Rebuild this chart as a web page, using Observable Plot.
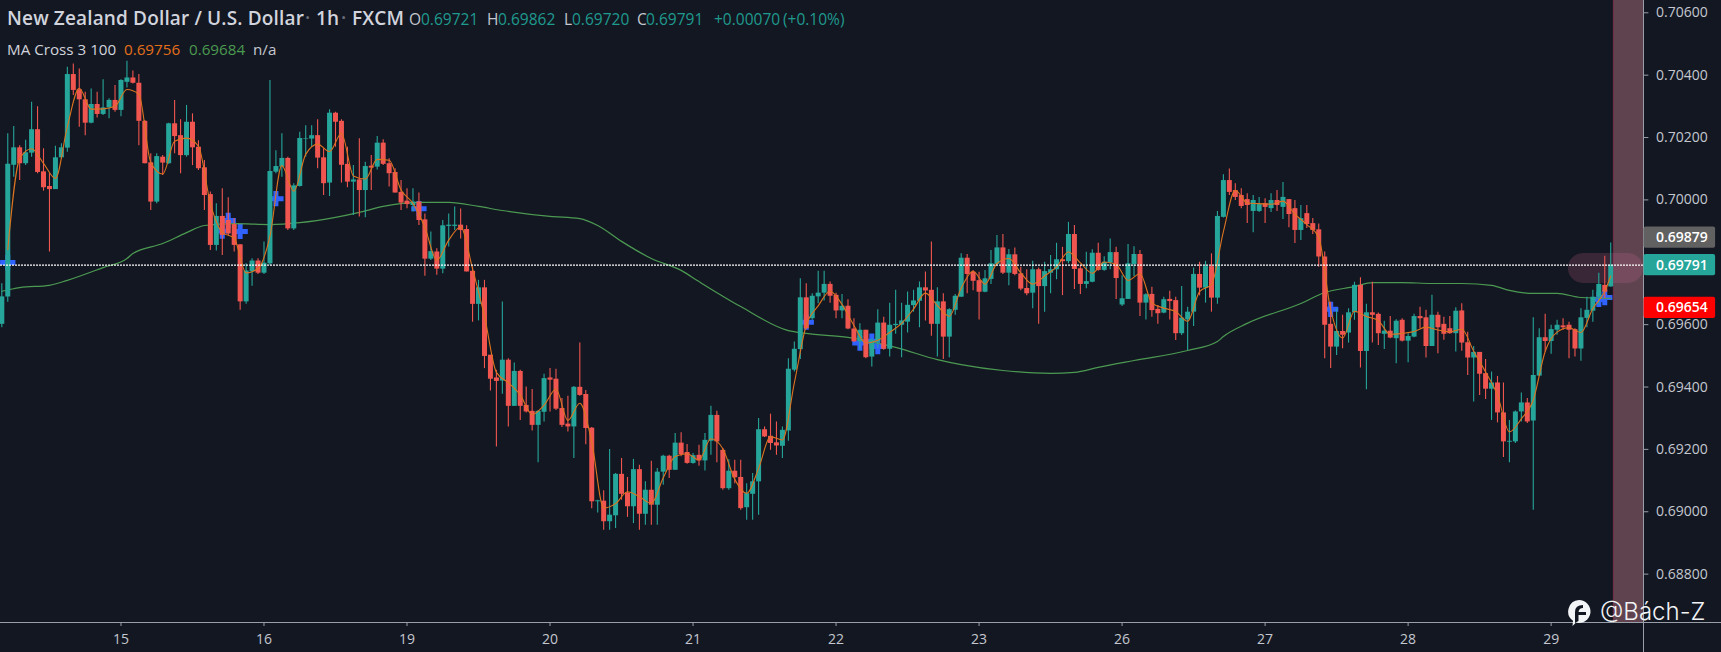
<!DOCTYPE html>
<html><head><meta charset="utf-8">
<script src="https://cdn.jsdelivr.net/npm/d3@7"></script>
<script src="https://cdn.jsdelivr.net/npm/@observablehq/plot@0.6"></script>
<style>
html,body{margin:0;padding:0;background:#131722;width:1721px;height:652px;overflow:hidden}
#wrap{position:relative;width:1721px;height:652px;font-family:"Open Sans",sans-serif}
#wrap span{position:absolute;white-space:nowrap;line-height:1}
.t{font-size:19px;color:#d1d4dc;top:9px;font-weight:600;letter-spacing:.15px}
.o{font-size:15.5px;top:12px}
.m{font-size:15.2px;top:41.5px}
.w{font-size:24px;color:#f2f3f5;font-weight:300;font-family:Inter,"Open Sans",sans-serif}
</style></head><body><div id="wrap"></div>
<script>
// prices are listed in units of 0.00001
const unit = 1e-5;
const highs = [69731,70212,70235,70174,70191,70313,70299,70164,70084,70172,
70180,70425,70436,70420,70345,70356,70345,70385,70324,70367,
70385,70445,70413,70402,70255,70148,70148,70142,70246,70319,
70257,70303,70276,70190,70126,70025,69988,70036,70007,69940,
69856,69795,69811,69811,69865,70383,70158,70212,70137,70052,
70217,70238,70238,70257,70164,70289,70281,70257,70169,70110,
70196,70121,70142,70203,70193,70132,70100,70062,70036,70036,
70022,69955,69897,69843,69934,69955,69977,69971,69917,69785,
69742,69742,69502,69454,69673,69491,69477,69454,69400,69392,
69325,69441,69459,69457,69363,69370,69402,69541,69389,69270,
69037,69067,69200,69123,69171,69110,69168,69149,69096,69162,
69139,69181,69181,69251,69253,69216,69187,69213,69251,69338,
69322,69203,69167,69165,69165,69090,69123,69299,69272,69313,
69288,69272,69491,69544,69747,69731,69699,69771,69771,69737,
69701,69697,69680,69619,69603,69582,69555,69648,69624,69669,
69710,69669,69705,69710,69737,69769,69865,69718,69699,69651,
69697,69827,69825,69774,69768,69774,69838,69886,69889,69841,
69846,69784,69776,69803,69782,69800,69822,69861,69848,69928,
69918,69790,69832,69840,69861,69818,69875,69848,69757,69857,
69850,69838,69699,69720,69661,69688,69707,69688,69722,69656,
69782,69800,69803,69827,69963,70081,70099,70052,70036,70020,
70014,70008,70004,70020,70030,70056,70001,69998,69982,69982,
69940,69923,69833,69672,69651,69630,69651,69736,69750,69665,
69736,69637,69611,69626,69616,69619,69571,69633,69656,69646,
69694,69640,69624,69626,69654,69667,69576,69530,69511,69488,
69448,69434,69413,69293,69323,69381,69363,69622,69587,69633,
69598,69614,69619,69608,69587,69651,69688,69710,69765,69819,69862];
const lows = [69590,69672,70073,70062,70110,70137,70084,70028,69833,70033,
70132,70153,70335,70233,70206,70244,70263,70271,70260,70281,
70267,70359,70372,70174,70116,69966,69988,70078,70114,70148,
70084,70137,70110,70094,69966,69838,69836,69822,69886,69833,
69646,69665,69723,69761,69761,69790,70084,70073,69902,69902,
70041,70137,70169,70100,70014,70011,70169,70054,70039,69950,
69945,69943,70030,70096,70110,70041,70022,69966,69972,69961,
69918,69755,69806,69758,69763,69849,69902,69875,69769,69608,
69612,69459,69387,69208,69377,69272,69338,69293,69317,69259,
69157,69288,69320,69325,69270,69256,69171,69370,69215,69010,
68996,68941,68941,68946,69037,68982,68962,68941,68957,68957,
68957,69085,69107,69133,69176,69152,69152,69146,69131,69181,
69157,69069,69069,69090,69005,68973,68973,68989,69238,69197,
69181,69171,69226,69448,69488,69584,69614,69667,69676,69669,
69619,69619,69584,69543,69518,69491,69464,69523,69518,69496,
69569,69494,69573,69640,69590,69612,69563,69496,69488,69494,
69630,69688,69699,69709,69615,69702,69729,69790,69761,69725,
69757,69709,69693,69651,69601,69640,69699,69744,69693,69795,
69713,69697,69715,69734,69771,69771,69776,69681,69658,69681,
69754,69626,69615,69624,69601,69635,69615,69549,69565,69517,
69594,69693,69669,69640,69665,69942,70014,69998,69972,69924,
69895,69960,69924,69960,69963,69937,69911,69860,69870,69908,
69889,69784,69491,69459,69501,69523,69541,69614,69461,69391,
69541,69533,69520,69555,69475,69544,69478,69558,69587,69493,
69530,69507,69550,69569,69512,69515,69437,69352,69373,69360,
69293,69285,69174,69157,69219,69288,69283,69005,69434,69512,
69505,69566,69582,69491,69496,69483,69590,69608,69662,69683,69720];
const opens = [69601,69689,70111,70167,70116,70150,70225,70090,70043,70033,
70135,70166,70402,70353,70321,70246,70306,70274,70295,70319,
70287,70377,70391,70374,70252,70119,69993,70137,70116,70244,
70206,70142,70249,70169,70103,70017,69854,69947,69934,69921,
69856,69673,69769,69804,69765,69795,70089,70105,70133,69907,
70043,70195,70195,70206,70135,70054,70278,70252,70114,70057,
70064,70030,70108,70105,70182,70116,70088,70024,69996,69982,
69993,69936,69810,69833,69778,69915,69915,69919,69905,69771,
69665,69718,69502,69429,69419,69486,69338,69450,69341,69322,
69277,69319,69429,69425,69331,69281,69272,69399,69376,69268,
69032,69034,68968,68987,69120,69060,69016,69135,68992,69069,
69021,69127,69178,69133,69220,69190,69155,69181,69163,69226,
69309,69197,69074,69130,69110,69013,69056,69096,69263,69242,
69221,69210,69259,69454,69520,69686,69619,69689,69701,69729,
69694,69644,69659,69586,69545,69582,69496,69544,69605,69521,
69597,69598,69608,69661,69675,69718,69710,69601,69673,69560,
69646,69688,69813,69768,69741,69704,69745,69793,69846,69765,
69824,69763,69716,69701,69776,69722,69765,69776,69808,69802,
69889,69779,69729,69736,69829,69774,69797,69831,69663,69681,
69793,69825,69669,69697,69649,69637,69681,69677,69571,69615,
69640,69761,69717,69786,69685,69944,70062,70030,70014,70001,
69963,69963,69988,69972,69998,69976,70001,69972,69902,69956,
69924,69904,69817,69601,69528,69578,69573,69638,69726,69514,
69638,69633,69569,69579,69555,69614,69547,69560,69626,69622,
69530,69630,69601,69587,69571,69644,69542,69493,69511,69443,
69393,69413,69317,69223,69224,69320,69349,69291,69435,69558,
69546,69582,69596,69598,69584,69522,69620,69643,69688,69726,69721];
const closes = [69689,70114,70167,70116,70151,70225,70088,70039,70033,70135,
70167,70402,70351,70321,70246,70306,70274,70295,70319,70287,
70383,70391,70374,70252,70116,69993,70139,70118,70244,70203,
70142,70249,70167,70100,70014,69854,69947,69886,69891,69854,
69673,69772,69804,69765,69797,70091,70107,70133,69907,70045,
70197,70197,70206,70134,70052,70278,70249,70111,70057,70064,
70030,70107,70102,70182,70114,70084,70022,69990,69985,69993,
69934,69810,69834,69778,69917,69919,69919,69902,69769,69665,
69718,69498,69425,69418,69486,69338,69450,69338,69320,69277,
69322,69427,69422,69329,69277,69272,69399,69373,69267,69032,
69035,68968,68989,69120,69056,69016,69135,68992,69069,69021,
69127,69178,69133,69220,69183,69155,69180,69163,69229,69309,
69224,69074,69130,69109,69010,69058,69096,69263,69240,69219,
69211,69261,69457,69521,69686,69587,69691,69701,69729,69691,
69644,69659,69586,69545,69582,69494,69550,69605,69521,69598,
69601,69612,69662,69676,69718,69708,69601,69673,69560,69648,
69691,69813,69761,69739,69704,69747,69795,69846,69765,69824,
69761,69714,69699,69776,69722,69770,69776,69808,69802,69889,
69777,69729,69738,69829,69774,69800,69831,69748,69683,69795,
69825,69669,69696,69645,69635,69680,69674,69571,69621,69640,
69761,69717,69786,69685,69947,70062,70024,70008,69979,69982,
69998,69985,69976,69998,69982,70008,69953,69902,69940,69921,
69902,69817,69598,69528,69578,69566,69638,69726,69514,69638,
69630,69571,69579,69557,69611,69547,69562,69626,69619,69530,
69630,69590,69569,69571,69643,69541,69493,69511,69441,69393,
69413,69317,69224,69226,69320,69349,69288,69437,69558,69546,
69584,69598,69590,69582,69522,69622,69646,69688,69729,69704,69791];
// fast MA, read at every second candle, starting at candle 1
const maFast = [69840,70132,70164,70117,70069,70235,70358,70291,70292,70300,70354,70339,70120,70083,70188,70198,70172,69989,69896,69877,
69766,69780,69884,70110,70028,70146,70179,70155,70213,70077,70067,70130,70127,70032,69989,69912,69807,69871,69913,69779,
69627,69447,69414,69375,69312,69342,69393,69293,69348,69224,69012,69026,69064,69048,69027,69109,69177,69186,69166,69234,
69202,69104,69059,69139,69241,69230,69413,69598,69660,69707,69665,69597,69541,69550,69575,69604,69650,69701,69661,69627,
69717,69771,69730,69796,69812,69766,69730,69756,69785,69833,69798,69765,69801,69793,69742,69763,69670,69653,69642,69611,
69706,69729,69898,70031,69990,69988,69986,69996,69954,69921,69880,69648,69557,69643,69626,69613,69569,69572,69578,69592,
69583,69577,69585,69515,69448,69374,69256,69298,69358,69514,69576,69590,69575,69652,69707];
const maFastLast = 69756;
// slow MA, read at candle positions
const maSlowAt = [0,3,8,11,17,21,22,27,31,34,39,45,50,56,60,64,70,75,80,84,92,97,100,104,109,114,117,124,132,135,142,150,157,161,168,176,180,184,190,199,204,205,209,218,222,227,230,235,240,245,250,253,257,261,265,270];
const maSlow = [69707,69719,69726,69742,69783,69812,69828,69860,69895,69918,69924,69921,69927,69944,69960,69979,69992,69992,69979,69966,69947,69940,69918,69867,69812,69774,69738,69658,69581,69572,69559,69527,69488,69472,69453,69444,69447,69463,69485,69517,69546,69562,69604,69668,69703,69722,69735,69735,69732,69732,69726,69710,69700,69700,69687,69684];
const crossAt = [1,37,38,40,46,70,135,144,146,147,223,268,269];
const crossPrice = [69799,69900,69934,69899,70004,69972,69608,69541,69547,69530,69649,69681,69687];
const dayAt = [20,44,68,92,116,140,164,188,212,236,260];
const dayLabels = ["15","16","19","20","21","22","23","26","27","28","29"];
const boldDays = ["19","26"];
const priceTicks = [0.688,0.690,0.692,0.694,0.696,0.698,0.700,0.702,0.704,0.706];
const lastClose = 0.69791, preMarket = 0.69879, redTag = 0.69654;

const candles = opens.map((o,i)=>({i,o:o*unit,h:highs[i]*unit,l:lows[i]*unit,c:closes[i]*unit,up:closes[i]>=o}));
const upC="#26a69a", dnC="#f0564f";
const col=d=>d.up?upC:dnC;
const fast = maFast.map((v,k)=>({i:1+2*k,v:v*unit})).concat([{i:270,v:maFastLast*unit}]);
const slow = maSlow.map((v,k)=>({i:maSlowAt[k],v:v*unit}));
const cross = crossAt.map((i,k)=>({i,v:crossPrice[k]*unit}));
const days = dayAt.map((i,k)=>({i,l:dayLabels[k]}));
const xMax=275.5, tagX1=275.6, tagX2=287.6, bandX1=270.45, pillX1=262.9;
const halfTag=0.00034;
const tags=[{p:preMarket,f:"#616161"},{p:lastClose,f:"#26a69a"},{p:redTag,f:"#ff0000"}];

const chart = Plot.plot({
  width:1721,height:652,marginLeft:0,marginRight:78,marginTop:0,marginBottom:30,
  style:{background:"#131722",fontFamily:'"Open Sans",sans-serif',overflow:"visible"},
  x:{type:"linear",domain:[-0.218,xMax],axis:null},
  y:{type:"linear",domain:[0.686449,0.706394],axis:null},
  marks:[
    Plot.rect([{}],{x1:bandX1,x2:xMax,y1:0.686449,y2:0.706394,fill:"#5f4450"}),
    Plot.ruleX([bandX1],{stroke:"#6f2c46",strokeWidth:1}),
    Plot.rect([{}],{x1:pillX1,x2:xMax,y1:0.69732,y2:0.69828,fill:"#d06a90",fillOpacity:0.2,rx:15}),
    Plot.dot(cross,{x:"i",y:"v",symbol:"plus",r:5,stroke:"#2f62ff",strokeWidth:5}),
    Plot.line(slow,{x:"i",y:"v",stroke:"#4c9a52",strokeWidth:1.2,curve:"monotone-x"}),
    Plot.ruleX(candles,{x:"i",y1:"l",y2:"h",stroke:col,strokeWidth:1.1}),
    Plot.ruleX(candles,{x:"i",y1:"o",y2:"c",stroke:col,strokeWidth:5}),
    Plot.line(fast,{x:"i",y:"v",stroke:"#dc7420",strokeWidth:1.1,curve:"monotone-x"}),
    Plot.ruleY([lastClose],{stroke:"#ffffff",strokeWidth:1.2,strokeDasharray:"2,1"}),
    Plot.ruleX([xMax],{stroke:"#9a9ea8",strokeWidth:1,insetBottom:-30}),
    Plot.ruleY([0.686449],{stroke:"#9a9ea8",strokeWidth:1,insetRight:-78}),
    Plot.ruleY(priceTicks,{x1:xMax,x2:276.4,stroke:"#9a9ea8",strokeWidth:1}),
    Plot.ruleX(days,{x:"i",y1:0.686449,y2:0.686449,insetBottom:-4,stroke:"#9a9ea8"}),
    Plot.text(priceTicks,{x:277.6,y:d=>d,text:d=>d.toFixed(5),textAnchor:"start",fill:"#c4c7cf",fontSize:14}),
    Plot.text(days,{x:"i",y:0.686449,dy:17,text:"l",fill:"#c4c7cf",fontSize:14,fontWeight:d=>boldDays.includes(d.l)?"700":"400"}),
    Plot.rect(tags,{x1:tagX1,x2:tagX2,y1:d=>d.p-halfTag,y2:d=>d.p+halfTag,fill:"f",rx:2}),
    Plot.text(tags,{x:277.6,y:"p",text:d=>d.p.toFixed(5),textAnchor:"start",fill:"#fff",fontSize:14,fontWeight:600})
  ]
});
const wrap=document.getElementById("wrap");
wrap.appendChild(chart);
const put=(txt,left,cls,color)=>{const s=document.createElement("span");s.textContent=txt;s.className=cls;s.style.left=left+"px";if(color)s.style.color=color;wrap.appendChild(s);};
put("New Zealand Dollar / U.S. Dollar",7,"t");
put("·",305,"t","#6a6d78");put("1h",316,"t");put("·",341,"t","#6a6d78");put("FXCM",352,"t");
const tc="#1f9a8e", lc="#c4c7cf";
[["O",409,lc],["0.69721",421,tc],["H",487,lc],["0.69862",498,tc],["L",564,lc],["0.69720",572,tc],["C",637,lc],["0.69791",646,tc],["+0.00070",714,tc],["(+0.10%)",783,tc]].forEach(a=>put(a[0],a[1],"o",a[2]));
[["MA Cross 3 100",7,"#d1d4dc"],["0.69756",124,"#e5701a"],["0.69684",189,"#4a9a4f"],["n/a",253,"#c4c7cf"]].forEach(a=>put(a[0],a[1],"m",a[2]));
put("@Bách-Z",1600,"w");wrap.lastChild.style.top="600px";
const ns="http://www.w3.org/2000/svg";
const ic=document.createElementNS(ns,"svg");ic.setAttribute("width","26");ic.setAttribute("height","28");
ic.setAttribute("style","position:absolute;left:1566px;top:599px");
ic.innerHTML='<path d="M13 1a11.5 11.5 0 1 1-3 22.6L6.5 27l.5-5.2A11.5 11.5 0 0 1 13 1z" fill="#f4f5f7"/><path d="M9 24V13q0-7 8-7v3q-4 0-4.5 4H20v3h-7.5v6z" fill="#131722"/>';
wrap.appendChild(ic);
</script></body></html>
